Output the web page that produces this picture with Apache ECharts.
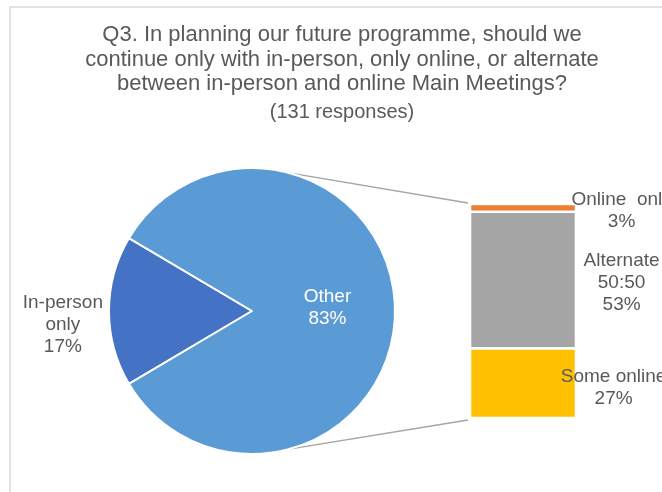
<!DOCTYPE html>
<html>
<head>
<meta charset="utf-8">
<script src="https://cdn.jsdelivr.net/npm/echarts@6/dist/echarts.min.js"></script>
<style>
  html, body { margin: 0; padding: 0; background: #fff; }
  #main { width: 662px; height: 492px; }
</style>
</head>
<body>
<div id="main"></div>
<script>
// pie part
var pieNames = ['In-person\nonly', 'Other'];
var pieValues = [17, 83];
var pieColors = ['#4472C4', '#5B9BD5'];
// bar part (breakdown of "Other"), bottom to top
var barNames = ['Some online', 'Alternate\n50:50', 'Online  only'];
var barValues = [27, 53, 3];
var barColors = ['#FFC000', '#A5A5A5', '#ED7D31'];

var textColor = '#595959';
var fontFam = 'Liberation Sans, Arial, sans-serif';
var pieCenter = [252, 311];
var pieRadius = 143;
var gridLeft = 470, gridTop = 204, gridWidth = 106, gridHeight = 214;

var dom = document.getElementById('main');
var myChart = echarts.init(dom, null, { renderer: 'canvas' });

var total = 0;
barValues.forEach(function (v) { total += v; });

var barSeries = barNames.map(function (name, i) {
  return {
    type: 'bar',
    name: name,
    stack: 'other',
    barWidth: '100%',
    data: [barValues[i]],
    itemStyle: { color: barColors[i], borderColor: '#fff', borderWidth: 1.3 },
    label: {
      show: true,
      position: ['143%', '50%'],
      offset: i === 0 ? [-8, 5] : [0, 3],
      align: 'center',
      verticalAlign: 'middle',
      color: textColor,
      fontSize: 19,
      lineHeight: 22,
      fontFamily: fontFam,
      formatter: function (p) { return name + '\n' + p.value + '%'; }
    }
  };
});

var option = {
  animation: false,
  title: {
    text: 'Q3. In planning our future programme, should we\ncontinue only with in-person, only online, or alternate\nbetween in-person and online Main Meetings?',
    subtext: '(131 responses)',
    left: 342,
    top: 23,
    textAlign: 'center',
    itemGap: 4,
    padding: 0,
    textStyle: { fontSize: 22, fontWeight: 'normal', color: textColor, lineHeight: 24.5, fontFamily: fontFam },
    subtextStyle: { fontSize: 20, color: textColor, lineHeight: 24, fontFamily: fontFam }
  },
  grid: { left: gridLeft, top: gridTop, width: gridWidth, height: gridHeight },
  xAxis: { type: 'category', data: ['Other'], show: false },
  yAxis: { type: 'value', min: 0, max: total, show: false },
  series: [{
    type: 'pie',
    center: pieCenter,
    radius: pieRadius,
    startAngle: 180 + pieValues[0] * 3.6 / 2,
    clockwise: true,
    silent: true,
    itemStyle: { borderColor: '#fff', borderWidth: 2 },
    labelLine: { show: false, length: 0, length2: 0 },
    data: pieNames.map(function (n, i) {
      return {
        name: n,
        value: pieValues[i],
        itemStyle: { color: pieColors[i] },
        label: i === 0
          ? { position: 'outside', color: textColor }
          : { position: 'inside', color: '#fff' }
      };
    }),
    label: {
      show: true,
      fontSize: 19,
      lineHeight: 22,
      fontFamily: fontFam,
      formatter: function (p) { return p.name + '\n' + p.value + '%'; }
    },
    labelLayout: function (params) {
      var r = params.labelRect;
      if (params.dataIndex === 0) {
        return { x: r.x + r.width / 2 - 1, y: r.y + r.height / 2 + 14, align: 'center', verticalAlign: 'middle' };
      }
      return { dx: 0.5, dy: -1.5 };
    }
  }].concat(barSeries)
};

myChart.setOption(option);

// connector lines from the pie to the bar
var topY = myChart.convertToPixel({ yAxisIndex: 0 }, total);
var botY = myChart.convertToPixel({ yAxisIndex: 0 }, 0);
var ang = 75 * Math.PI / 180;
var p1 = [pieCenter[0] + pieRadius * Math.cos(ang), pieCenter[1] - pieRadius * Math.sin(ang)];
var p2 = [pieCenter[0] + pieRadius * Math.cos(ang), pieCenter[1] + pieRadius * Math.sin(ang)];

myChart.setOption({
  graphic: [
    {
      type: 'rect', z: -10, silent: true,
      shape: { x: 10, y: 7, width: 700, height: 600 },
      style: { fill: 'none', stroke: '#D9D9D9', lineWidth: 1.5 }
    },
    {
      type: 'line', silent: true,
      shape: { x1: p1[0], y1: p1[1], x2: gridLeft - 2, y2: topY - 1 },
      style: { stroke: '#A5A5A5', lineWidth: 1.5 }
    },
    {
      type: 'line', silent: true,
      shape: { x1: p2[0], y1: p2[1], x2: gridLeft - 2, y2: botY + 2 },
      style: { stroke: '#A5A5A5', lineWidth: 1.5 }
    }
  ]
});

window.addEventListener('resize', myChart.resize);
</script>
</body>
</html>
